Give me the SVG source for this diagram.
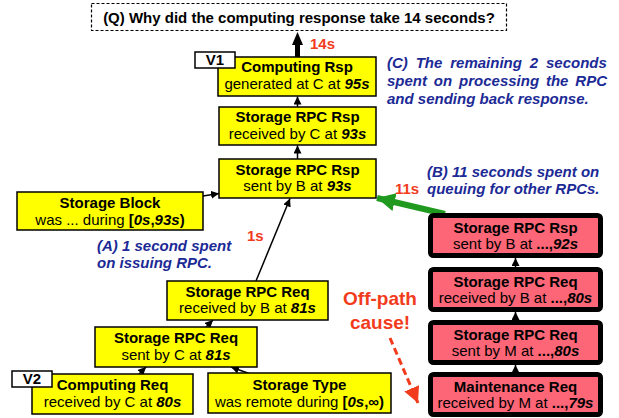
<svg xmlns="http://www.w3.org/2000/svg" width="619" height="418" viewBox="0 0 619 418">
  <style>
    text { font-family: "Liberation Sans", Arial, sans-serif; }
    .node rect { fill: #ffff00; stroke: #000; stroke-width: 1.5; }
    .hot rect { fill: #fc6676; stroke: #000; stroke-width: 5; }
    .tag rect { fill: #fff; stroke: #000; stroke-width: 1.5; }
    .ttl { font-size: 15px; font-weight: bold; text-anchor: middle; fill: #000; }
    .sub { font-size: 15px; text-anchor: middle; fill: #000; }
    .b { font-weight: bold; }
    .bi { font-weight: bold; font-style: italic; }
    .note { font-size: 15px; font-weight: bold; font-style: italic; fill: #1c2a96; }
    .lag { font-size: 15px; font-weight: bold; fill: #f23b1c; }
    .cause { font-size: 19px; font-weight: bold; fill: #f23b1c; text-anchor: middle; }
    .thin { stroke: #000; stroke-width: 1.5; fill: none; }
  </style>
  <defs>
    <marker id="tip" markerUnits="userSpaceOnUse" markerWidth="9" markerHeight="8" refX="8" refY="4" orient="auto">
      <path d="M0,0 L8,4 L0,8 z" fill="#000"/>
    </marker>
    <marker id="tipGreen" markerUnits="userSpaceOnUse" markerWidth="20" markerHeight="18" refX="18" refY="9" orient="auto">
      <path d="M0,0 L18,9 L0,18 z" fill="#1f9a1f"/>
    </marker>
    <marker id="tipRed" markerUnits="userSpaceOnUse" markerWidth="18" markerHeight="16" refX="16" refY="8" orient="auto">
      <path d="M0,0 L16,8 L0,16 z" fill="#f23b1c"/>
    </marker>
  </defs>

  <!-- question -->
  <g id="question">
    <rect x="91.5" y="3.5" width="415" height="27" fill="#fff" stroke="#000" stroke-width="1.2" stroke-dasharray="3 2"/>
    <text class="ttl" x="299" y="23">(Q) Why did the computing response take 14 seconds?</text>
  </g>

  <!-- connectors -->
  <g id="connectors">
    <rect x="295" y="44" width="5" height="13" fill="#000"/>
    <path d="M297.5,32 L292,45 L303,45 z" fill="#000"/>
    <line class="thin" x1="297.5" y1="107" x2="297.5" y2="96.5" marker-end="url(#tip)"/>
    <line class="thin" x1="297.5" y1="159" x2="297.5" y2="145.5" marker-end="url(#tip)"/>
    <line class="thin" x1="203" y1="196" x2="219" y2="193.5" marker-end="url(#tip)"/>
    <line class="thin" x1="256" y1="281" x2="290" y2="198.5" marker-end="url(#tip)"/>
    <line class="thin" x1="206" y1="327" x2="213" y2="320" marker-end="url(#tip)"/>
    <line class="thin" x1="139" y1="374" x2="146" y2="367" marker-end="url(#tip)"/>
    <line class="thin" x1="249" y1="373.5" x2="231" y2="367" marker-end="url(#tip)"/>
    <line class="thin" x1="515.5" y1="267" x2="515.5" y2="258" marker-end="url(#tip)"/>
    <line class="thin" x1="515.5" y1="320" x2="515.5" y2="312" marker-end="url(#tip)"/>
    <line class="thin" x1="515.5" y1="372" x2="515.5" y2="365" marker-end="url(#tip)"/>
    <line x1="445" y1="214" x2="377" y2="198" stroke="#1f9a1f" stroke-width="6" marker-end="url(#tipGreen)"/>
    <line x1="390" y1="338" x2="418" y2="403" stroke="#f23b1c" stroke-width="3" stroke-dasharray="7 4" marker-end="url(#tipRed)"/>
  </g>

  <!-- critical path nodes -->
  <g id="computing-rsp" class="node">
    <rect x="218" y="57" width="158" height="39"/>
    <text class="ttl" x="297" y="71.5">Computing Rsp</text>
    <text class="sub" x="297" y="88.5">generated at C at <tspan class="bi">95s</tspan></text>
  </g>
  <g id="v1" class="tag">
    <rect x="195" y="52" width="40" height="16"/>
    <text class="ttl" x="215" y="65">V1</text>
  </g>
  <g id="rpc-rsp-recv-c" class="node">
    <rect x="219" y="107" width="157" height="38"/>
    <text class="ttl" x="297.5" y="122">Storage RPC Rsp</text>
    <text class="sub" x="297.5" y="138.5">received by C at <tspan class="bi">93s</tspan></text>
  </g>
  <g id="rpc-rsp-sent-b" class="node">
    <rect x="219" y="159" width="157" height="39"/>
    <text class="ttl" x="297.5" y="174.5">Storage RPC Rsp</text>
    <text class="sub" x="297.5" y="191">sent by B at <tspan class="bi">93s</tspan></text>
  </g>
  <g id="storage-block" class="node">
    <rect x="17" y="192" width="186" height="38"/>
    <text class="ttl" x="110" y="207.5">Storage Block</text>
    <text class="sub" x="110" y="224.5">was ... during <tspan class="b">[</tspan><tspan class="bi">0s</tspan><tspan class="b">,</tspan><tspan class="bi">93s</tspan><tspan class="b">)</tspan></text>
  </g>
  <g id="rpc-req-recv-b" class="node">
    <rect x="167" y="281" width="161" height="39"/>
    <text class="ttl" x="247.5" y="296.5">Storage RPC Req</text>
    <text class="sub" x="247.5" y="313">received by B at <tspan class="bi">81s</tspan></text>
  </g>
  <g id="rpc-req-sent-c" class="node">
    <rect x="95" y="327" width="162" height="40"/>
    <text class="ttl" x="176" y="343">Storage RPC Req</text>
    <text class="sub" x="176" y="360">sent by C at <tspan class="bi">81s</tspan></text>
  </g>
  <g id="computing-req" class="node">
    <rect x="32" y="374" width="161" height="40"/>
    <text class="ttl" x="112.5" y="390">Computing Req</text>
    <text class="sub" x="112.5" y="407">received by C at <tspan class="bi">80s</tspan></text>
  </g>
  <g id="v2" class="tag">
    <rect x="12" y="371" width="40" height="16"/>
    <text class="ttl" x="32" y="383.5">V2</text>
  </g>
  <g id="storage-type" class="node">
    <rect x="208" y="373" width="183" height="40"/>
    <text class="ttl" x="299.5" y="389.5">Storage Type</text>
    <text class="sub" x="299.5" y="406.5">was remote during <tspan class="b">[</tspan><tspan class="bi">0s</tspan><tspan class="b">,∞)</tspan></text>
  </g>

  <!-- off-path nodes -->
  <g id="rsp-sent-b-92" class="hot">
    <rect x="430.5" y="215.5" width="170" height="40" rx="3"/>
    <text class="ttl" x="515.5" y="233">Storage RPC Rsp</text>
    <text class="sub" x="515.5" y="249">sent by B at <tspan class="b">...,</tspan><tspan class="bi">92s</tspan></text>
  </g>
  <g id="req-recv-b-80" class="hot">
    <rect x="430.5" y="269.5" width="170" height="40" rx="3"/>
    <text class="ttl" x="515.5" y="287">Storage RPC Req</text>
    <text class="sub" x="515.5" y="303">received by B at <tspan class="b">...,</tspan><tspan class="bi">80s</tspan></text>
  </g>
  <g id="req-sent-m-80" class="hot">
    <rect x="430.5" y="322.5" width="170" height="40" rx="3"/>
    <text class="ttl" x="515.5" y="340">Storage RPC Req</text>
    <text class="sub" x="515.5" y="356">sent by M at <tspan class="b">...,</tspan><tspan class="bi">80s</tspan></text>
  </g>
  <g id="maintenance-req" class="hot">
    <rect x="430.5" y="374.5" width="170" height="40" rx="3"/>
    <text class="ttl" x="515.5" y="392">Maintenance Req</text>
    <text class="sub" x="515.5" y="408">received by M at <tspan class="b">...,</tspan><tspan class="bi">79s</tspan></text>
  </g>

  <!-- annotations -->
  <g id="labels">
    <text class="lag" x="310" y="49">14s</text>
    <text class="lag" x="395" y="194">11s</text>
    <text class="lag" x="247" y="241">1s</text>
    <text class="note" x="387" y="68" word-spacing="3.7">(C) The remaining 2 seconds</text>
    <text class="note" x="387" y="86" word-spacing="2.7">spent on processing the RPC</text>
    <text class="note" x="387" y="104">and sending back response.</text>
    <text class="note" x="427" y="177">(B) 11 seconds spent on</text>
    <text class="note" x="427" y="194">queuing for other RPCs.</text>
    <text class="note" x="97" y="251">(A) 1 second spent</text>
    <text class="note" x="97" y="268">on issuing RPC.</text>
    <text class="cause" x="380" y="305">Off-path</text>
    <text class="cause" x="380" y="329">cause!</text>
  </g>
</svg>
